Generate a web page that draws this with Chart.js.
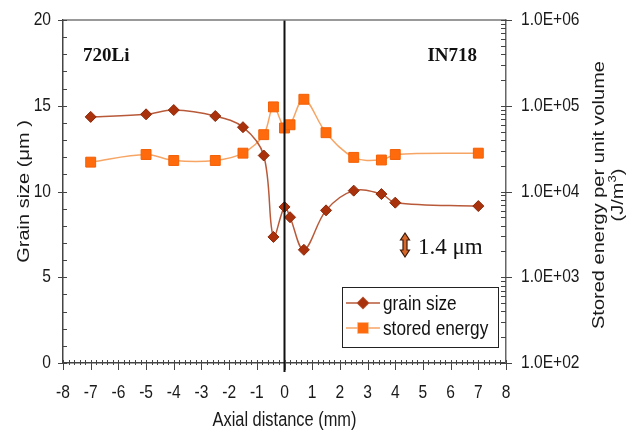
<!DOCTYPE html>
<html>
<head>
<meta charset="utf-8">
<script src="https://cdn.jsdelivr.net/npm/chart.js@4.4.1/dist/chart.umd.min.js"></script>
<style>
  body { margin: 0; background: #fff; }
</style>
</head>
<body>
<canvas id="chart" width="639" height="433"></canvas>
<script>
// axial positions (mm)
const axialDistance = [-7, -5, -4, -2.5, -1.5, -0.75, -0.4, 0, 0.2, 0.7, 1.5, 2.5, 3.5, 4, 7];
// grain size (um), left axis
const grainSize = [14.35, 14.5, 14.75, 14.4, 13.75, 12.1, 7.35, 9.1, 8.5, 6.6, 8.9, 10.05, 9.85, 9.35, 9.15];
// stored energy per unit volume (J/m3), right log axis
const storedEnergy = [2.2e4, 2.7e4, 2.3e4, 2.3e4, 2.8e4, 4.6e4, 9.7e4, 5.5e4, 6.0e4, 1.19e5, 4.85e4, 2.5e4, 2.33e4, 2.7e4, 2.8e4];

const xTicks = [-8, -7, -6, -5, -4, -3, -2, -1, 0, 1, 2, 3, 4, 5, 6, 7, 8];
const grainTicks = [0, 5, 10, 15, 20];
const energyTicks = [1e2, 1e3, 1e4, 1e5, 1e6];

const seriesNames = ['grain size', 'stored energy'];
const materialLabels = ['720Li', 'IN718'];
const scaleNote = '1.4 \u03bcm';

const SANS = "'Liberation Sans', Arial, sans-serif";
const SERIF = "'Liberation Serif', 'Times New Roman', serif";
const SQUEEZE = 0.82; // the source picture is squeezed sideways

const grainLine = '#b85a3a', grainMark = '#a9320c';
const energyLine = '#f7a565', energyMark = '#ff6a0d';

function toPoints(xs, ys) {
    return xs.map((x, i) => ({ x: x, y: ys[i] }));
}

function energyLabel(v) {
    return '1.0E+' + String(Math.round(Math.log10(v))).padStart(2, '0');
}

// horizontal text, narrowed like the source
function narrowText(ctx, text, x, y, align, size) {
    ctx.save();
    ctx.translate(x, y);
    ctx.scale(SQUEEZE, 1);
    ctx.font = size + 'px ' + SANS;
    ctx.textAlign = align;
    ctx.textBaseline = 'middle';
    ctx.fillText(text, 0, 0);
    ctx.restore();
}

// ticks, borders, zero line, titles, notes and legend
const decorations = {
    id: 'decorations',
    afterDatasetsDraw(chart) {
        const ctx = chart.ctx;
        const a = chart.chartArea;
        const x0 = chart.scales.x.getPixelForValue(0);
        ctx.save();
        ctx.strokeStyle = '#111';
        ctx.lineWidth = 2;
        ctx.beginPath();
        ctx.moveTo(x0, a.top);
        ctx.lineTo(x0, a.bottom + 9);
        ctx.stroke();
        ctx.restore();
    },
    afterDraw(chart) {
        const ctx = chart.ctx;
        const a = chart.chartArea;
        const x = chart.scales.x, y = chart.scales.y, y2 = chart.scales.y2;
        ctx.save();

        // top border
        ctx.strokeStyle = '#777';
        ctx.lineWidth = 1.5;
        ctx.beginPath();
        ctx.moveTo(a.left, a.top);
        ctx.lineTo(a.right, a.top);
        ctx.stroke();

        ctx.strokeStyle = '#444';
        ctx.lineWidth = 1;
        ctx.beginPath();
        // x axis ticks
        for (let v = -8; v <= 8.001; v += 0.2) {
            const px = Math.round(x.getPixelForValue(v)) + 0.5;
            const major = Math.abs(v - Math.round(v)) < 0.01;
            ctx.moveTo(px, a.bottom - 3);
            ctx.lineTo(px, a.bottom + (major ? 7 : 2));
        }
        // left axis ticks
        for (let v = 0; v <= 20; v++) {
            const py = Math.round(y.getPixelForValue(v)) + 0.5;
            const major = v % 5 === 0;
            ctx.moveTo(a.left - (major ? 5 : 0), py);
            ctx.lineTo(a.left + 4, py);
        }
        // right axis ticks
        for (let p = 2; p <= 6; p++) {
            for (let m = 1; m <= 9; m++) {
                if (p === 6 && m > 1) break;
                const py = Math.round(y2.getPixelForValue(m * Math.pow(10, p))) + 0.5;
                ctx.moveTo(a.right - 5, py);
                ctx.lineTo(a.right + (m === 1 ? 6 : 0), py);
            }
        }
        ctx.stroke();

        // tick labels
        ctx.fillStyle = '#1a1a1a';
        xTicks.forEach(v => narrowText(ctx, String(v), x.getPixelForValue(v), 393, 'center', 19));
        grainTicks.forEach(v => narrowText(ctx, String(v), 51, y.getPixelForValue(v), 'right', 19));
        energyTicks.forEach(v => narrowText(ctx, energyLabel(v), a.right + 15, y2.getPixelForValue(v), 'left', 19));

        // axis titles
        narrowText(ctx, 'Axial distance (mm)', x.getPixelForValue(0), 420, 'center', 20);

        ctx.font = '20px ' + SANS;
        ctx.textBaseline = 'middle';
        ctx.textAlign = 'center';
        ctx.save();
        ctx.translate(24, (a.top + a.bottom) / 2);
        ctx.rotate(-Math.PI / 2);
        ctx.scale(1, SQUEEZE);
        ctx.fillText('Grain size (\u03bcm )', 0, 0);
        ctx.restore();

        ctx.save();
        ctx.translate(599, 195);
        ctx.rotate(-Math.PI / 2);
        ctx.scale(1, SQUEEZE);
        ctx.fillText('Stored energy per unit volume', 0, 0);
        ctx.textAlign = 'left';
        const w1 = ctx.measureText('(J/m').width;
        const w3 = ctx.measureText(')').width;
        ctx.font = '13px ' + SANS;
        const w2 = ctx.measureText('3').width;
        const sx = -(w1 + w2 + w3) / 2;
        ctx.fillText('3', sx + w1, 17);
        ctx.font = '20px ' + SANS;
        ctx.fillText('(J/m', sx, 24);
        ctx.fillText(')', sx + w1 + w2, 24);
        ctx.restore();

        // material labels
        ctx.fillStyle = '#111';
        ctx.font = 'bold 19px ' + SERIF;
        ctx.textAlign = 'left';
        ctx.fillText(materialLabels[0], 83, 56);
        ctx.textAlign = 'right';
        ctx.fillText(materialLabels[1], 477, 56);

        // scale note with double arrow
        const ax = 405, ay = 245;
        ctx.beginPath();
        ctx.moveTo(ax, ay - 12);
        ctx.lineTo(ax + 4.5, ay - 5);
        ctx.lineTo(ax + 2, ay - 5);
        ctx.lineTo(ax + 2, ay + 5);
        ctx.lineTo(ax + 4.5, ay + 5);
        ctx.lineTo(ax, ay + 12);
        ctx.lineTo(ax - 4.5, ay + 5);
        ctx.lineTo(ax - 2, ay + 5);
        ctx.lineTo(ax - 2, ay - 5);
        ctx.lineTo(ax - 4.5, ay - 5);
        ctx.closePath();
        ctx.fillStyle = '#d8682a';
        ctx.fill();
        ctx.strokeStyle = '#3a1a0a';
        ctx.lineWidth = 1.2;
        ctx.stroke();
        ctx.fillStyle = '#111';
        ctx.textAlign = 'left';
        ctx.font = '23px ' + SERIF;
        ctx.fillText(scaleNote, 418, 248);

        // legend
        const lx = 342, ly = 287, lw = 156, lh = 60;
        ctx.fillStyle = '#fff';
        ctx.fillRect(lx, ly, lw, lh);
        ctx.strokeStyle = '#222';
        ctx.lineWidth = 1;
        ctx.strokeRect(lx + 0.5, ly + 0.5, lw, lh);
        chart.data.datasets.forEach((ds, i) => {
            const ry = ly + 16 + i * 25;
            ctx.strokeStyle = ds.borderColor;
            ctx.lineWidth = 1.5;
            ctx.beginPath();
            ctx.moveTo(lx + 4, ry);
            ctx.lineTo(lx + 38, ry);
            ctx.stroke();
            Chart.helpers.drawPoint(ctx, {
                pointStyle: ds.pointStyle, radius: ds.pointRadius, borderWidth: 1
            }, lx + 21, ry);
            ctx.fillStyle = ds.pointBackgroundColor;
            ctx.strokeStyle = ds.pointBorderColor;
            ctx.fill();
            ctx.fillStyle = '#111';
            narrowText(ctx, ds.label, lx + 41, ry + 1, 'left', 21);
        });
        ctx.restore();
    }
};

const ctx = document.getElementById('chart').getContext('2d');
const myChart = new Chart(ctx, {
    type: 'scatter',
    data: {
        datasets: [{
                label: seriesNames[0],
                data: toPoints(axialDistance, grainSize),
                yAxisID: 'y',
                showLine: true,
                tension: 0.35,
                borderColor: grainLine,
                borderWidth: 1.5,
                pointStyle: 'rectRot',
                pointRadius: 5.5,
                pointBackgroundColor: grainMark,
                pointBorderColor: '#8d2808',
                pointBorderWidth: 1
            }, {
                label: seriesNames[1],
                data: toPoints(axialDistance, storedEnergy),
                yAxisID: 'y2',
                showLine: true,
                tension: 0.35,
                borderColor: energyLine,
                borderWidth: 1.5,
                pointStyle: 'rect',
                pointRadius: 7,
                pointBackgroundColor: energyMark,
                pointBorderColor: '#f26005',
                pointBorderWidth: 1
            }
        ]
    },
    options: {
        responsive: false,
        animation: false,
        layout: { padding: { top: 20, left: 0, right: 0, bottom: 0 } },
        plugins: {
            legend: { display: false },
            tooltip: { enabled: false }
        },
        scales: {
            x: {
                type: 'linear',
                min: -8, max: 8,
                afterBuildTicks: s => { s.ticks = xTicks.map(v => ({ value: v })); },
                ticks: { display: false },
                grid: { display: false, drawTicks: false },
                border: { display: true, color: '#444', width: 1.5 },
                afterFit: s => { s.height = 70; }
            },
            y: {
                position: 'left',
                min: 0, max: 20,
                afterBuildTicks: s => { s.ticks = grainTicks.map(v => ({ value: v })); },
                ticks: { display: false },
                grid: { display: false, drawTicks: false },
                border: { display: true, color: '#444', width: 1.5 },
                afterFit: s => { s.width = 63; }
            },
            y2: {
                type: 'logarithmic',
                position: 'right',
                min: 1e2, max: 1e6,
                afterBuildTicks: s => { s.ticks = energyTicks.map(v => ({ value: v })); },
                ticks: { display: false, callback: energyLabel },
                grid: { display: false, drawTicks: false },
                border: { display: true, color: '#666', width: 1.5 },
                afterFit: s => { s.width = 133; }
            }
        }
    },
    plugins: [decorations]
});
</script>
</body>
</html>
